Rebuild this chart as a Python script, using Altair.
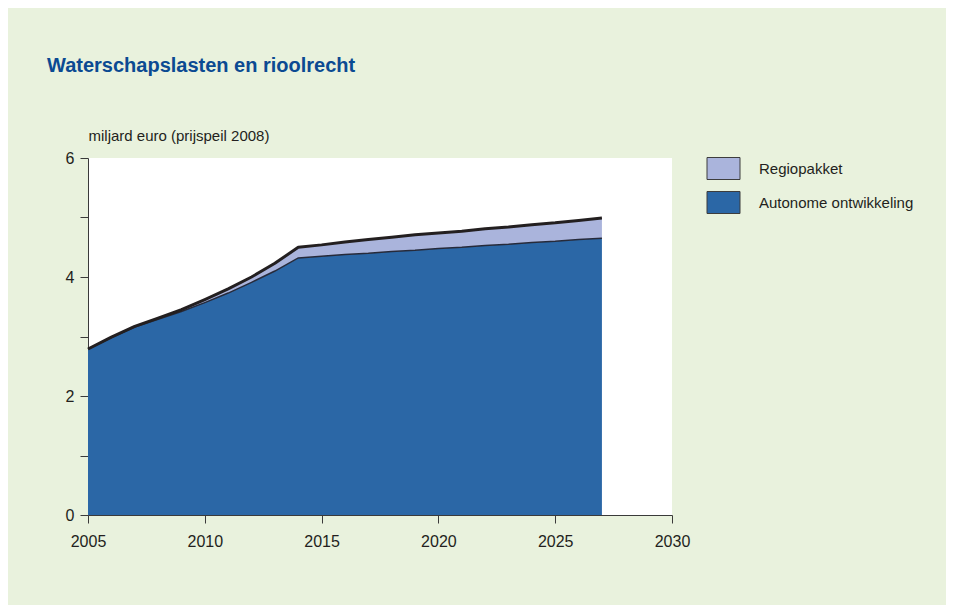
import altair as alt
import pandas as pd

# ---- data ----
years = list(range(2005, 2028))
autonome = [2.79, 2.98, 3.16, 3.29, 3.42, 3.57, 3.73, 3.91, 4.10, 4.32, 4.35, 4.38,
            4.40, 4.43, 4.45, 4.48, 4.50, 4.53, 4.55, 4.58, 4.60, 4.63, 4.65]
regiopakket = [0.00, 0.01, 0.01, 0.02, 0.03, 0.05, 0.07, 0.09, 0.13, 0.18, 0.19, 0.21,
               0.23, 0.24, 0.26, 0.26, 0.27, 0.28, 0.29, 0.30, 0.31, 0.32, 0.34]
series = ["Regiopakket", "Autonome ontwikkeling"]
colors = ["#aab4dc", "#2b67a6"]
x_ticks = [2005, 2010, 2015, 2020, 2025, 2030]
y_ticks = [0, 1, 2, 3, 4, 5, 6]

total = [round(a + r, 3) for a, r in zip(autonome, regiopakket)]
rows = []
for j, a, t in zip(years, autonome, total):
    rows.append({"jaar": j, "reeks": "Autonome ontwikkeling", "onder": 0.0, "boven": a})
    rows.append({"jaar": j, "reeks": "Regiopakket", "onder": a, "boven": t})
df = pd.DataFrame(rows)
lines = pd.DataFrame({"jaar": years, "autonome": autonome, "totaal": total})

FONT = "Liberation Sans Narrow, Arial Narrow, Liberation Sans, Arial, sans-serif"
TXT = "#231f20"

x_enc = alt.X("jaar:Q",
              scale=alt.Scale(domain=[2005, 2030], nice=False, zero=False),
              axis=alt.Axis(values=x_ticks, format="d", title=None, grid=False,
                            tickSize=8, labelPadding=10, labelFontSize=16,
                            domainColor="#3a3a3a", tickColor="#3a3a3a",
                            labelColor=TXT, labelFont=FONT, labelFlush=False))
y_axis = alt.Axis(values=y_ticks, format="d",
                  labelExpr="datum.value % 2 == 0 ? datum.label : ''",
                  title="miljard euro (prijspeil 2008)", titleAngle=0, titleAlign="left",
                  titleBaseline="alphabetic", titleX=0, titleY=-18,
                  titleFont=FONT, titleFontSize=15, titleFontWeight="normal",
                  titleColor=TXT, grid=False, tickSize=8, labelPadding=6,
                  labelFontSize=16, labelColor=TXT, labelFont=FONT,
                  domainColor="#3a3a3a", tickColor="#3a3a3a")

areas = alt.Chart(df).mark_area(interpolate="linear").encode(
    x=x_enc,
    y=alt.Y("boven:Q", scale=alt.Scale(domain=[0, 6], nice=False), axis=y_axis),
    y2="onder:Q",
    color=alt.Color("reeks:N",
                    scale=alt.Scale(domain=series, range=colors),
                    legend=alt.Legend(title=None, orient="none", legendX=624, legendY=-1,
                                      symbolType="M-1.5,-1L1.5,-1L1.5,1L-1.5,1Z",
                                      symbolSize=484, symbolStrokeColor="#3d3d3d",
                                      symbolStrokeWidth=1, symbolOpacity=1,
                                      labelFont=FONT, labelFontSize=15, labelColor=TXT,
                                      labelOffset=24, rowPadding=7, padding=0,
                                      labelLimit=300)),
)

mid_line = alt.Chart(lines).mark_line(color="#262a3a", strokeWidth=1.5).encode(
    x="jaar:Q", y="autonome:Q")
top_line = alt.Chart(lines).mark_line(color=TXT, strokeWidth=3, strokeJoin="round").encode(
    x="jaar:Q", y="totaal:Q")

chart = alt.layer(areas, mid_line, top_line).properties(
    width=584, height=357,
    autosize=alt.AutoSizeParams(type="none"),
    padding={"left": 80, "top": 150, "right": 274, "bottom": 90},
    background="#e9f2dd",
    title=alt.Title("Waterschapslasten en rioolrecht", anchor="start", frame="group",
                    font=FONT, fontSize=20, fontWeight="bold", color="#0b4a92",
                    dx=-41, offset=52),
).configure_view(fill="white", stroke=None)

chart.save("out.html", embed_options={"renderer": "svg", "actions": False})
